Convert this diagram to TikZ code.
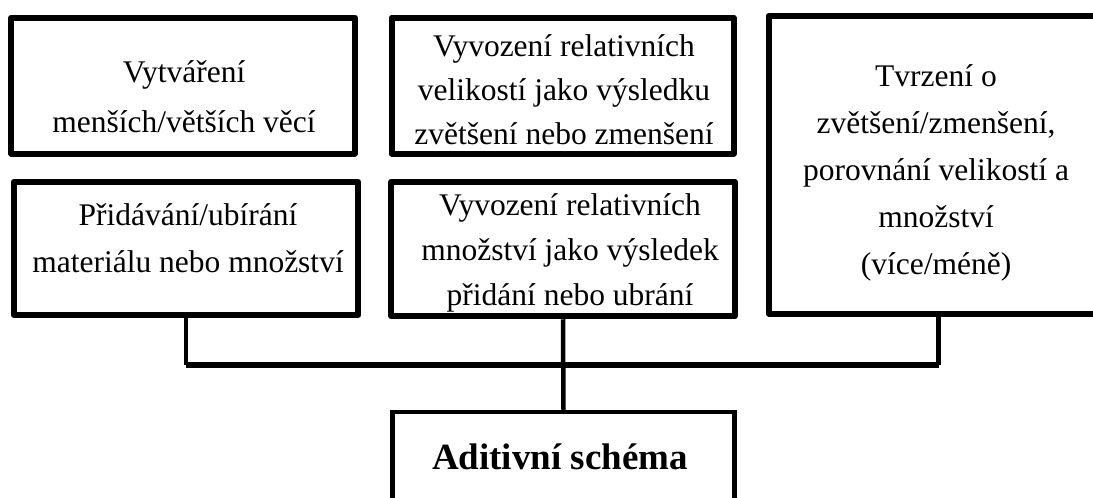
\documentclass[tikz,border=0pt]{standalone}
\usepackage{fontspec}
\setmainfont{Liberation Serif}
\usepackage{tikz}

\begin{document}
\begin{tikzpicture}
     [x=1pt, y=-1pt,
     thickbox/.style={rectangle, draw=black, line width=6pt, line join=round, inner sep=0pt},
     thinbox/.style={rectangle, draw=black, line width=4.5pt, inner sep=0pt},
     boxtext/.style={align=center, inner sep=0pt, font=\fontsize{31.5}{47}\selectfont},
     titletext/.style={align=center, inner sep=0pt, font=\fontsize{37}{42}\selectfont\bfseries},
     stub/.style={draw=black, line width=4.5pt},
     bar/.style={draw=black, line width=6pt},
     ]
 \clip (0,0) rectangle (1093,498);
 \fill[white] (0,0) rectangle (1093,498);
 % texts first, the borders lie over them
 \node at (184,97) [boxtext, font=\fontsize{31.5}{50}\selectfont] (t_vytv) {Vytváření\\menších/větších věcí};
 \node at (564,90) [boxtext, font=\fontsize{31.5}{44}\selectfont] (t_velik) {Vyvození relativních\\velikostí jako výsledku\\zvětšení nebo zmenšení};
 \node at (936,173) [boxtext] (t_tvrz) {Tvrzení o\\zvětšení/zmenšení,\\porovnání velikostí a\\množství\\(více/méně)};
 \node at (188,238) [boxtext] (t_prid) {Přidávání/ubírání\\materiálu nebo množství};
 \node at (570,253) [boxtext, font=\fontsize{31.5}{45}\selectfont] (t_mnoz) {Vyvození relativních\\množství jako výsledek\\přidání nebo ubrání};
 \node at (560,457) [titletext] (t_adit) {Aditivní schéma};
 \node at (183,85.5) [thickbox, minimum width=343.5pt, minimum height=136pt] (vytv) {};
 \node at (562.5,85.5) [thickbox, minimum width=342pt, minimum height=136pt] (velik) {};
 \node at (938.5,164.75) [thickbox, minimum width=340pt, minimum height=297.5pt] (tvrz) {};
 \node at (186,248.5) [thickbox, minimum width=344.5pt, minimum height=133pt] (prid) {};
 \node at (563,249) [thickbox, minimum width=343.5pt, minimum height=134.5pt] (mnoz) {};
 \node at (563.5,458.5) [thinbox, minimum width=342pt, minimum height=93pt] (adit) {};
 \coordinate (join) at (563,365);
 \draw[stub] (prid.south) -- (prid.south |- join);
 \draw[stub] (tvrz.south) -- (tvrz.south |- join);
 \draw[bar] (prid.south |- join) -- (tvrz.south |- join);
 \draw[stub] (mnoz.south) -- (adit.north);
 \end{tikzpicture}
\end{document}
